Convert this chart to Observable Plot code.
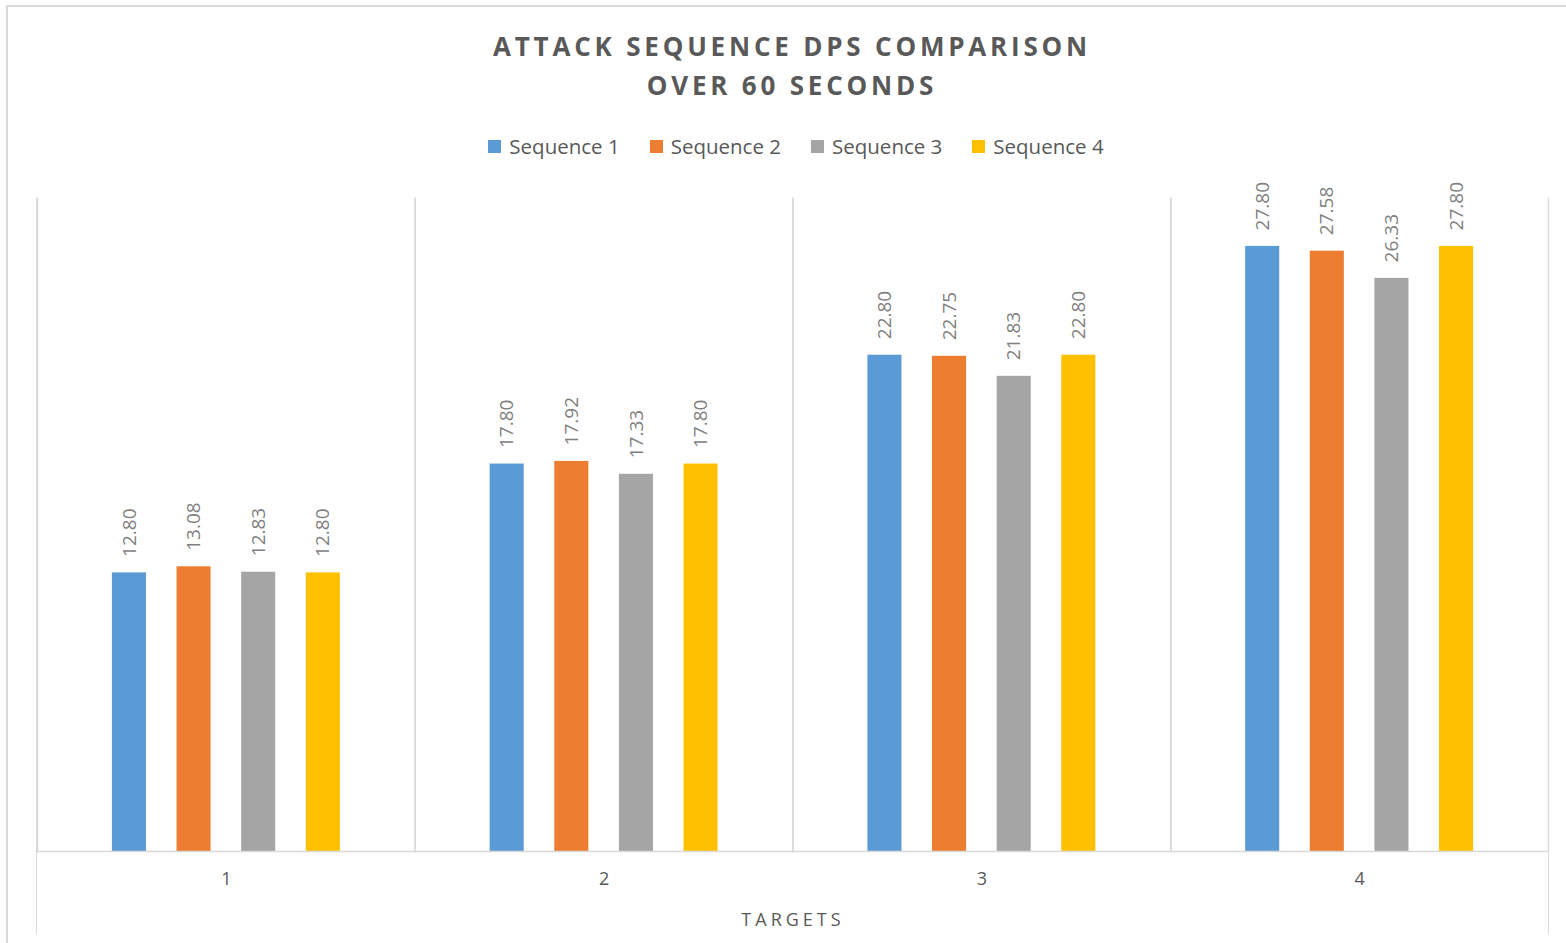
<!DOCTYPE html>
<html>
<head>
<meta charset="utf-8">
<script src="https://cdn.jsdelivr.net/npm/d3@7"></script>
<script src="https://cdn.jsdelivr.net/npm/@observablehq/plot@0.6"></script>
<style>
  html, body { margin: 0; padding: 0; background: #fff; overflow: hidden; width: 1566px; height: 943px; }
  body { position: relative; font-family: "Open Sans", "DejaVu Sans", sans-serif; }
  #border { position: absolute; left: 6px; top: 5px; width: 1600px; height: 1000px; border: 2px solid #d9d9d9; box-sizing: border-box; }
  #title { position: absolute; left: 0; top: 27px; width: 1584px; text-align: center; font-weight: 700; font-size: 26px; line-height: 39px; letter-spacing: 3.8px; color: #595959; }
  #legend { position: absolute; left: 0; top: 134px; width: 1592px; display: flex; justify-content: center; gap: 30px; font-size: 20.5px; line-height: 24px; color: #595959; }
  .item { display: flex; align-items: center; gap: 8px; }
  .sw { width: 13px; height: 13px; display: inline-block; }
  #sides { position: absolute; left: 36px; top: 198px; width: 1513px; height: 736px; border-left: 1.5px solid #d9d9d9; border-right: 1.5px solid #d9d9d9; box-sizing: border-box; }
  #chart { position: absolute; left: 35px; top: 168px; }
  #chart svg { overflow: visible; }
  #chart [aria-label="fx-axis label"] text, #chart g[aria-label="fx-axis label"] { letter-spacing: 4px; }
</style>
</head>
<body>
<div id="border"></div>
<div id="title">ATTACK SEQUENCE DPS COMPARISON<br>OVER 60 SECONDS</div>
<div id="legend"></div>
<div id="sides"></div>
<div id="chart"></div>
<script>
const targets = ["1", "2", "3", "4"];
const series = ["Sequence 1", "Sequence 2", "Sequence 3", "Sequence 4"];
const seq1 = [12.80, 17.80, 22.80, 27.80];
const seq2 = [13.08, 17.92, 22.75, 27.58];
const seq3 = [12.83, 17.33, 21.83, 26.33];
const seq4 = [12.80, 17.80, 22.80, 27.80];
const colors = ["#5b9bd5", "#ed7d31", "#a5a5a5", "#ffc000"];
const axisLabel = "TARGETS";

const values = [seq1, seq2, seq3, seq4];
const data = [];
targets.forEach((t, i) => series.forEach((s, j) => data.push({target: t, series: s, value: values[j][i]})));

// legend
const legend = document.getElementById("legend");
series.forEach((s, j) => {
  const it = document.createElement("div");
  it.className = "item";
  const sw = document.createElement("span");
  sw.className = "sw";
  sw.style.background = colors[j];
  const tx = document.createElement("span");
  tx.textContent = s;
  it.appendChild(sw); it.appendChild(tx);
  legend.appendChild(it);
});

const grid = "#d9d9d9";
const chart = Plot.plot({
  width: 1515,
  height: 766,
  marginTop: 30,
  marginBottom: 83,
  marginLeft: 2,
  marginRight: 2,
  style: {fontFamily: "'Open Sans', 'DejaVu Sans', sans-serif", background: "transparent", overflow: "visible"},
  fx: {domain: targets, paddingInner: 0, paddingOuter: 0, round: false},
  x: {domain: series, paddingInner: 0.473, paddingOuter: 1.159, round: false, axis: null},
  y: {domain: [0, 30], axis: null},
  color: {domain: series, range: colors},
  marks: [
    Plot.frame({anchor: "left", stroke: grid, strokeWidth: 1.5}),
    Plot.frame({anchor: "right", stroke: grid, strokeWidth: 1.5}),
    Plot.barY(data, {fx: "target", x: "series", y: "value", fill: "series"}),
    Plot.ruleY([0], {stroke: grid, strokeWidth: 1.5}),
    Plot.text(data, {
      fx: "target", x: "series", y: "value",
      text: d => d.value.toFixed(2),
      rotate: -90, textAnchor: "start", lineAnchor: "middle",
      dy: -16, fill: "#7f7f7f", fontSize: 19
    }),
    Plot.axisFx({
      anchor: "bottom", tickSize: 0, tickPadding: 21, fontSize: 18,
      color: "#595959", fill: "#595959",
      label: axisLabel, labelAnchor: "center", labelOffset: 74, labelArrow: "none"
    })
  ]
});
document.getElementById("chart").appendChild(chart);
</script>
</body>
</html>
